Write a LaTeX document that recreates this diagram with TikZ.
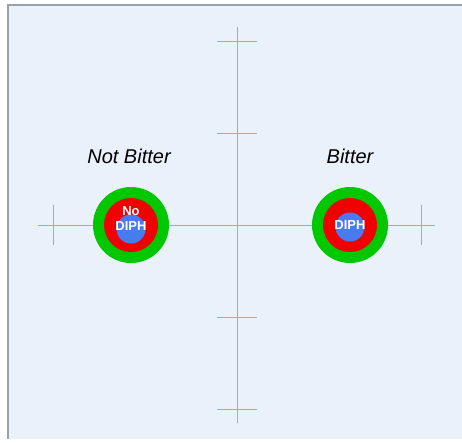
\documentclass[tikz,border=0pt]{standalone}
\usepackage{fontspec}
\setsansfont{Liberation Sans}
\definecolor{panelbg}{RGB}{234,241,250}
\definecolor{panelline}{RGB}{150,162,176}
\definecolor{axisblue}{RGB}{138,176,224}
\definecolor{ringgreen}{RGB}{0,200,0}
\definecolor{ringred}{RGB}{240,0,0}
\definecolor{coreblue}{RGB}{72,122,240}

\begin{document}
\begin{tikzpicture}[x=1pt,y=-1pt,
  every node/.style={font=\sffamily},
  axis/.style={draw=axisblue, line width=0.9pt},
  ring/.style={circle, fill=ringgreen, minimum size=76pt, inner sep=0pt},
  band/.style={circle, fill=ringred, minimum size=54pt, inner sep=0pt},
  core/.style={circle, fill=coreblue, minimum size=29pt, inner sep=0pt},
  tag/.style={font=\sffamily\bfseries\fontsize{13}{13}\selectfont, text=white, align=center, inner sep=0pt},
  caption/.style={font=\sffamily\itshape\fontsize{20}{24}\selectfont}]
  % Panel
  \useasboundingbox (0,0) rectangle (462,442);
  \fill[white] (0,0) rectangle (462,442);
  \fill[panelbg] (8,5) rectangle (462,439);
  \draw[panelline, line width=1.2pt] (8,439) -- (8,5) -- (462,5);
  % Axes
  \coordinate (top) at (237,27);
  \coordinate (bottom) at (237,423);
  \coordinate (left) at (38,225);
  \coordinate (right) at (435,225);
  \draw[axis] (top) -- (bottom);
  \draw[axis] (left) -- (right);
  \foreach \y in {41,133,225,317,409}
    \draw[axis] (217,\y) -- (257,\y);
  \foreach \x in {53,421}
    \draw[axis] (\x,205) -- (\x,245);
  % Not bitter
  \node[ring] (nbring) at (131,225) {};
  \node[band] (nbband) at (nbring.center) {};
  \node[core] (nbcore) at (131,229) {};
  \node[tag] (nbtag) at (131,219) {No\\[2pt]DIPH};
  \node[caption] (nblabel) at (129,156) {Not Bitter};
  % Bitter
  \node[ring] (bring) at (350,225) {};
  \node[band] (bband) at (bring.center) {};
  \node[core] (bcore) at (350,227) {};
  \node[tag] (btag) at (350,225) {DIPH};
  \node[caption] (blabel) at (350,156) {Bitter};
\end{tikzpicture}
\end{document}
